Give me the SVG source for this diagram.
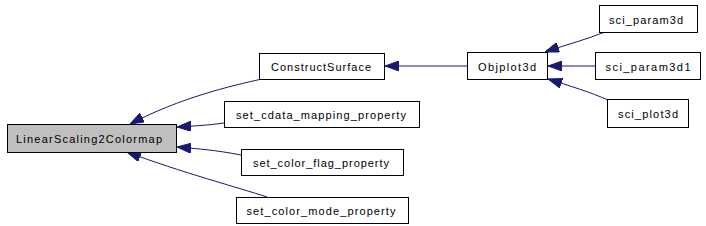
<svg xmlns="http://www.w3.org/2000/svg" width="706" height="226" viewBox="0 0 706 226">
<style>
.n rect{fill:#fff;stroke:#000;stroke-width:1}
.n.root rect{fill:#bfbfbf}
.n text{font-family:"Liberation Sans",Arial,sans-serif;font-size:11px;fill:#000;text-anchor:middle}
.e path{fill:none;stroke:#191970;stroke-width:1;marker-end:url(#ah)}
</style>
<defs>
<marker id="ah" viewBox="0 0 14 10" refX="14" refY="5" markerWidth="14" markerHeight="10" markerUnits="userSpaceOnUse" orient="auto">
<path d="M0,0 L14,5 L0,10 z" fill="#191970" stroke="#191970"/>
</marker>
</defs>
<rect width="706" height="226" fill="#fff"/>
<g class="e">
<path d="M262,79 C230,86 180,98 130,124"/>
<path d="M224,123 C210,125 195,126 177,127"/>
<path d="M241,155 C215,150 200,149 177,147"/>
<path d="M267,197 C240,188 180,172 127,152"/>
<path d="M467,66 L385,66"/>
<path d="M605,32 C585,40 565,45 545,52"/>
<path d="M595,66 L548,66"/>
<path d="M608,100 C590,92 570,86 548,79"/>
</g>
<g id="LinearScaling2Colormap" class="n root"><rect x="7.5" y="124.5" width="169" height="28"/><text x="89" y="143" textLength="146" lengthAdjust="spacing">LinearScaling2Colormap</text></g>
<g id="ConstructSurface" class="n"><rect x="259.5" y="53.5" width="125" height="26"/><text x="321" y="71" textLength="100" lengthAdjust="spacing">ConstructSurface</text></g>
<g id="set_cdata_mapping_property" class="n"><rect x="224.5" y="101.5" width="195" height="26"/><text x="321" y="119" textLength="170" lengthAdjust="spacing">set_cdata_mapping_property</text></g>
<g id="set_color_flag_property" class="n"><rect x="241.5" y="149.5" width="162" height="26"/><text x="321" y="167" textLength="136" lengthAdjust="spacing">set_color_flag_property</text></g>
<g id="set_color_mode_property" class="n"><rect x="236.5" y="197.5" width="172" height="26"/><text x="321" y="215" textLength="149" lengthAdjust="spacing">set_color_mode_property</text></g>
<g id="Objplot3d" class="n"><rect x="467.5" y="52.5" width="80" height="27"/><text x="507" y="71" textLength="58" lengthAdjust="spacing">Objplot3d</text></g>
<g id="sci_param3d" class="n"><rect x="599.5" y="5.5" width="98" height="27"/><text x="646" y="24" textLength="74" lengthAdjust="spacing">sci_param3d</text></g>
<g id="sci_param3d1" class="n"><rect x="595.5" y="52.5" width="105" height="27"/><text x="648" y="71" textLength="85" lengthAdjust="spacing">sci_param3d1</text></g>
<g id="sci_plot3d" class="n"><rect x="607.5" y="99.5" width="81" height="28"/><text x="648" y="118" textLength="60" lengthAdjust="spacing">sci_plot3d</text></g>
</svg>
